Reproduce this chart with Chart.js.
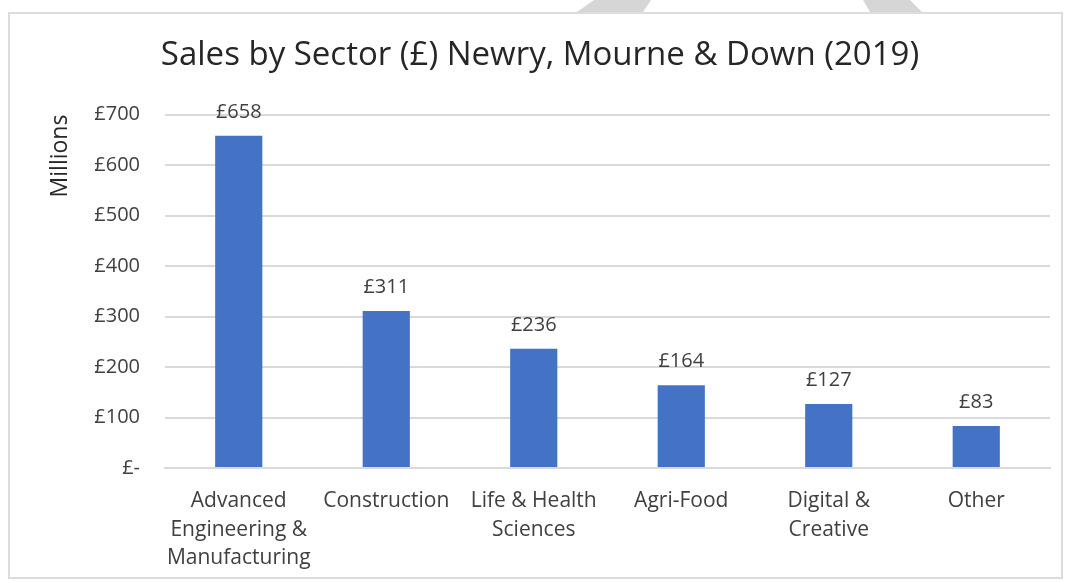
<!DOCTYPE html>
<html>
<head>
<meta charset="utf-8">
<script src="https://cdn.jsdelivr.net/npm/chart.js@4"></script>
<style>
  html, body { margin: 0; padding: 0; background: #fff; }
  canvas { display: block; }
</style>
</head>
<body>
<canvas id="salesChart" width="1066" height="582"></canvas>
<script>
const sectors = [
  ['Advanced', 'Engineering &', 'Manufacturing'],
  ['Construction'],
  ['Life & Health', 'Sciences'],
  ['Agri-Food'],
  ['Digital &', 'Creative'],
  ['Other']
];
const salesMillions = [658, 311, 236, 164, 127, 83];
const yTicks = [0, 100, 200, 300, 400, 500, 600, 700];

const FONT = '"Open Sans", Lato, sans-serif';

function formatPounds(v) {
  return v === 0 ? '£-' : '£' + v;
}

// white page, grey frame and the grey strips peeking in above it
const framePlugin = {
  id: 'frame',
  beforeDraw(chart) {
    const ctx = chart.ctx;
    ctx.save();
    ctx.fillStyle = '#ffffff';
    ctx.fillRect(0, 0, chart.width, chart.height);

    ctx.fillStyle = '#d6d6d6';
    ctx.beginPath();
    ctx.moveTo(594, 0);
    ctx.lineTo(651, 0);
    ctx.lineTo(643, 12);
    ctx.lineTo(577, 12);
    ctx.closePath();
    ctx.fill();
    ctx.beginPath();
    ctx.moveTo(863, 0);
    ctx.lineTo(910, 0);
    ctx.lineTo(922, 12);
    ctx.lineTo(870, 12);
    ctx.closePath();
    ctx.fill();

    ctx.strokeStyle = '#dcdcdc';
    ctx.lineWidth = 2;
    ctx.strokeRect(9, 13, 1053, 565);
    ctx.restore();
  }
};

// value labels above each bar
const valueLabels = {
  id: 'valueLabels',
  afterDatasetsDraw(chart) {
    const ctx = chart.ctx;
    const meta = chart.getDatasetMeta(0);
    ctx.save();
    ctx.font = '20px ' + FONT;
    ctx.fillStyle = '#404040';
    ctx.textAlign = 'center';
    ctx.textBaseline = 'alphabetic';
    meta.data.forEach((bar, i) => {
      const v = chart.data.datasets[0].data[i];
      ctx.fillText(formatPounds(v), bar.x, bar.y - 18);
    });
    ctx.restore();
  }
};

const ctx = document.getElementById('salesChart').getContext('2d');

new Chart(ctx, {
  type: 'bar',
  data: {
    labels: sectors,
    datasets: [{
      data: salesMillions,
      backgroundColor: '#4472C4',
      borderWidth: 0,
      categoryPercentage: 1,
      barPercentage: 0.32
    }]
  },
  options: {
    responsive: false,
    animation: false,
    layout: {
      padding: { left: 30, right: 16, top: 0, bottom: 0 }
    },
    plugins: {
      legend: { display: false },
      tooltip: { enabled: false },
      title: {
        display: true,
        text: 'Sales by Sector (£) Newry, Mourne & Down (2019)',
        color: '#262626',
        font: { family: FONT, size: 33, weight: 'normal', lineHeight: 1.2 },
        padding: { top: 36, bottom: 39 }
      }
    },
    scales: {
      x: {
        grid: { display: false },
        border: { display: true, color: '#d9d9d9', width: 2 },
        ticks: {
          color: '#404040',
          font: { family: FONT, size: 21, lineHeight: 1.36 },
          padding: 11,
          maxRotation: 0,
          autoSkip: false
        },
        afterFit(scale) { scale.height = 114; }
      },
      y: {
        min: 0,
        max: 700,
        afterBuildTicks(scale) {
          scale.ticks = yTicks.map(v => ({ value: v }));
        },
        grid: { color: '#d9d9d9', lineWidth: 2, drawTicks: false },
        border: { display: false },
        ticks: {
          color: '#404040',
          font: { family: FONT, size: 20 },
          padding: 25,
          callback: v => formatPounds(v)
        },
        title: {
          display: true,
          text: 'Millions',
          align: 'end',
          color: '#262626',
          font: { family: FONT, size: 23, lineHeight: 1.2 },
          padding: { top: 17, bottom: 0 }
        },
        afterFit(scale) { scale.width = 135; }
      }
    }
  },
  plugins: [framePlugin, valueLabels]
});
</script>
</body>
</html>
